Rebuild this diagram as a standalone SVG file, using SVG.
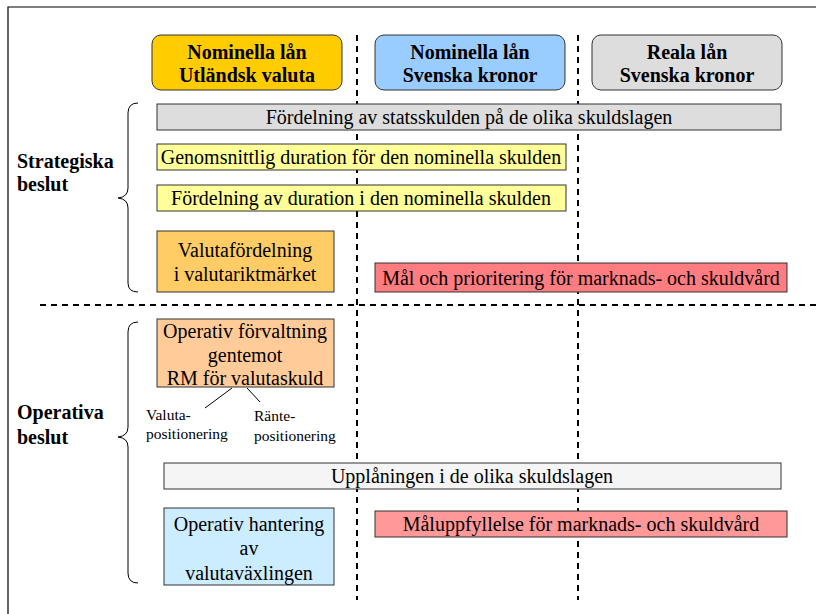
<svg xmlns="http://www.w3.org/2000/svg" width="816" height="614" viewBox="0 0 816 614">
<style>
.t{font-family:"Liberation Serif","Times New Roman",serif;font-size:20px;fill:#000;text-anchor:middle}
.b{font-family:"Liberation Serif","Times New Roman",serif;font-size:20px;font-weight:bold;fill:#000}
.bc{text-anchor:middle}
.s{font-family:"Liberation Serif","Times New Roman",serif;font-size:15.5px;fill:#000}
.box{stroke:#333;stroke-width:1}
.hdr{stroke:#333;stroke-width:1}
.dash{stroke:#000;stroke-width:2;stroke-dasharray:6 5;fill:none}
.br{stroke:#000;stroke-width:1;fill:none}
</style>
<rect width="816" height="614" fill="#fff"/>
<path d="M8 614 V7 H816" stroke="#000" stroke-width="1.2" fill="none"/>

<g id="connectors">
<line class="dash" x1="357" y1="35" x2="357" y2="600"/>
<line class="dash" x1="578" y1="35" x2="578" y2="600"/>
<line class="dash" x1="40" y1="305" x2="816" y2="305"/>
<path class="br" d="M138 103 Q128 103 128 113 V188 Q128 197 118 198 Q128 199 128 208 V283 Q128 292 138 292"/>
<path class="br" d="M138 322 Q128 322 128 332 V427 Q128 436 118 437 Q128 438 128 447 V573 Q128 583 138 583"/>
<line class="br" x1="232" y1="388" x2="205" y2="408"/>
<line class="br" x1="247" y1="388" x2="260" y2="402"/>
</g>

<g id="hdr1"><rect class="hdr" x="152" y="35" width="190" height="55" rx="9" fill="#FFCC00"/>
<text class="b bc" x="247" y="59">Nominella lån</text><text class="b bc" x="247" y="82">Utländsk valuta</text></g>
<g id="hdr2"><rect class="hdr" x="375" y="35" width="190" height="55" rx="9" fill="#99CCFF"/>
<text class="b bc" x="470" y="59">Nominella lån</text><text class="b bc" x="470" y="82">Svenska kronor</text></g>
<g id="hdr3"><rect class="hdr" x="592" y="35" width="190" height="55" rx="9" fill="#DDDDDD"/>
<text class="b bc" x="687" y="59">Reala lån</text><text class="b bc" x="687" y="82">Svenska kronor</text></g>

<g id="lbl-strat"><text class="b" x="17" y="168">Strategiska</text><text class="b" x="17" y="191">beslut</text></g>
<g id="lbl-oper"><text class="b" x="17" y="419">Operativa</text><text class="b" x="17" y="444">beslut</text></g>

<g id="fordelning"><rect class="box" x="157" y="104" width="624" height="26" fill="#DDDDDD"/>
<text class="t" x="469" y="124">Fördelning av statsskulden på de olika skuldslagen</text></g>
<g id="genomsnitt"><rect class="box" x="157" y="144" width="409" height="26" fill="#FFFF99"/>
<text class="t" x="361" y="164">Genomsnittlig duration för den nominella skulden</text></g>
<g id="fordur"><rect class="box" x="157" y="185" width="409" height="26" fill="#FFFF99"/>
<text class="t" x="361" y="205">Fördelning av duration i den nominella skulden</text></g>
<g id="valutaford"><rect class="box" x="157" y="231" width="177" height="61" fill="#FFCC66"/>
<text class="t" x="245" y="257">Valutafördelning</text><text class="t" x="245" y="281">i valutariktmärket</text></g>
<g id="malprio"><rect class="box" x="375" y="263" width="412" height="29" fill="#FF7C80"/>
<text class="t" x="581" y="285">Mål och prioritering för marknads- och skuldvård</text></g>

<g id="opforv"><rect class="box" x="157" y="319" width="177" height="68" fill="#FFCC99"/>
<text class="t" x="245" y="338">Operativ förvaltning</text><text class="t" x="245" y="362">gentemot</text><text class="t" x="245" y="385">RM för valutaskuld</text></g>
<g id="valpos"><text class="s" x="146" y="420">Valuta-</text><text class="s" x="146" y="439">positionering</text></g>
<g id="rantepos"><text class="s" x="254" y="421">Ränte-</text><text class="s" x="254" y="441">positionering</text></g>

<g id="upplan"><rect class="box" x="164" y="463" width="617" height="26" fill="#F5F5F5"/>
<text class="t" x="472" y="483">Upplåningen i de olika skuldslagen</text></g>
<g id="ophant"><rect class="box" x="164" y="508" width="170" height="77" fill="#CCECFF"/>
<text class="t" x="249" y="531">Operativ hantering</text><text class="t" x="249" y="555">av</text><text class="t" x="249" y="580">valutaväxlingen</text></g>
<g id="maluppf"><rect class="box" x="375" y="511" width="412" height="26" fill="#FF9999"/>
<text class="t" x="581" y="531">Måluppfyllelse för marknads- och skuldvård</text></g>
</svg>
